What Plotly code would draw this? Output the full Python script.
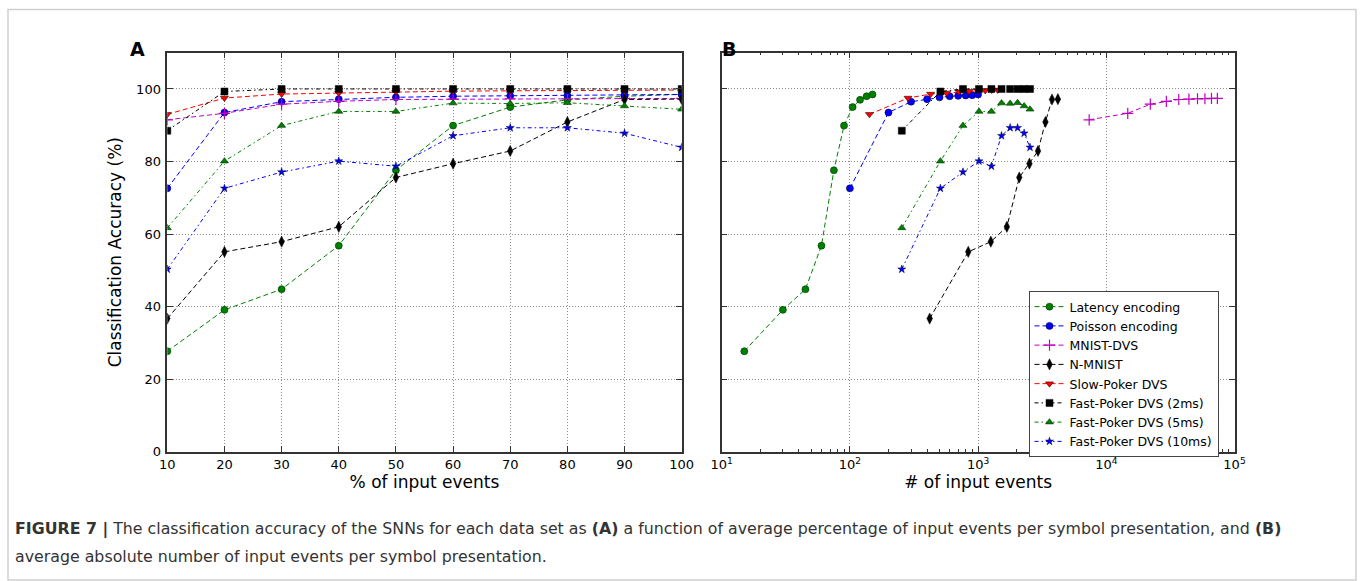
import plotly.graph_objects as go

# ---------------- data ----------------
pct_events = [10, 20, 30, 40, 50, 60, 70, 80, 90, 100]

latency_acc = [27.7, 39.1, 44.8, 56.8, 77.6, 89.9, 95.0, 97.0, 98.0, 98.5]
poisson_acc = [72.6, 93.5, 96.5, 97.2, 97.7, 98.0, 98.1, 98.2, 98.3, 98.5]
mnist_dvs_acc = [91.5, 93.3, 95.8, 96.6, 97.1, 97.2, 97.3, 97.3, 97.4, 97.4]
nmnist_acc = [36.7, 55.1, 57.9, 62.0, 75.6, 79.4, 82.9, 90.9, 97.1, 97.2]
slow_poker_acc = [93.0, 97.5, 98.6, 98.9, 99.2, 99.4, 99.5, 99.6, 99.7, 99.7]
fast2_acc = [88.5, 99.3, 100.0, 100.0, 100.0, 100.0, 100.0, 100.0, 100.0, 100.0]
fast5_acc = [61.7, 80.1, 89.9, 93.8, 93.8, 96.1, 96.0, 96.2, 95.3, 94.4]
fast10_acc = [50.3, 72.6, 77.1, 80.1, 78.7, 87.1, 89.3, 89.3, 87.8, 83.9]

latency_events = [15, 30, 45, 60, 75, 90, 105, 120, 135, 150]
poisson_events = [100, 200, 300, 400, 500, 600, 700, 800, 900, 1000]
mnist_dvs_events = [7350, 14700, 22050, 29400, 36750, 44100, 51450, 58800, 66150, 73500]
nmnist_events = [419, 838, 1257, 1676, 2095, 2514, 2933, 3352, 3771, 4190]
slow_poker_events = [142, 284, 426, 568, 710, 852, 994, 1136, 1278, 1420]
fast_poker_events = [254, 508, 762, 1016, 1270, 1524, 1778, 2032, 2286, 2540]

series_names = ["Latency encoding", "Poisson encoding", "MNIST-DVS", "N-MNIST",
                "Slow-Poker DVS", "Fast-Poker DVS (2ms)", "Fast-Poker DVS (5ms)",
                "Fast-Poker DVS (10ms)"]
series_acc = [latency_acc, poisson_acc, mnist_dvs_acc, nmnist_acc,
              slow_poker_acc, fast2_acc, fast5_acc, fast10_acc]
series_events = [latency_events, poisson_events, mnist_dvs_events, nmnist_events,
                 slow_poker_events, fast_poker_events, fast_poker_events, fast_poker_events]

left_xticks = [10, 20, 30, 40, 50, 60, 70, 80, 90, 100]
y_ticks = [0, 20, 40, 60, 80, 100]
log_tickvals = [10, 100, 1000, 10000, 100000]
log_ticktext = ["10<sup>1</sup>", "10<sup>2</sup>", "10<sup>3</sup>", "10<sup>4</sup>", "10<sup>5</sup>"]

# ---------------- styles ----------------
DASH = "5px,3px"
DASHDOT = "4px,3px,1.5px,3px"
styles = [
    dict(color="#008000", dash=DASH, symbol="circle", size=7, edge="#003300", ew=0.6),
    dict(color="#0000FF", dash=DASH, symbol="circle", size=7, edge="#000033", ew=0.6),
    dict(color="#BF00BF", dash=DASH, symbol="cross-thin", size=8, edge="#BF00BF", ew=1.2),
    dict(color="#000000", dash=DASH, symbol="diamond-tall", size=8, edge="#000000", ew=0.5),
    dict(color="#FF0000", dash=DASH, symbol="triangle-down", size=7, edge="#330000", ew=0.6),
    dict(color="#000000", dash=DASHDOT, symbol="square", size=7, edge="#000000", ew=0.5),
    dict(color="#008000", dash=DASHDOT, symbol="triangle-up", size=7, edge="#003300", ew=0.6),
    dict(color="#0000FF", dash=DASHDOT, symbol="star", size=6, edge="#000033", ew=0.5),
]

W, H = 1360, 581
def px_x(p):
    return p / W
def px_y(p):
    return 1 - p / H

fig = go.Figure()

def add_series(i, xs, xa, ya, show):
    s = styles[i]
    fig.add_trace(go.Scatter(
        x=xs, y=series_acc[i], xaxis=xa, yaxis=ya,
        mode="lines+markers", name=series_names[i], legendgroup=series_names[i],
        showlegend=show,
        line=dict(color=s["color"], width=1, dash=s["dash"]),
        marker=dict(symbol=s["symbol"], size=s["size"], color=s["color"],
                    line=dict(color=s["edge"], width=s["ew"])),
    ))

for i in range(len(series_names)):
    add_series(i, pct_events, "x", "y", False)
for i in range(len(series_names)):
    add_series(i, series_events[i], "x2", "y2", True)

axis_font = dict(family="DejaVu Sans", size=13, color="#000")
title_font = dict(family="DejaVu Sans", size=17, color="#000")
grid_common = dict(showgrid=True, gridcolor="#8c8c8c", gridwidth=1, griddash="1px,2px",
                   showline=True, linecolor="#333", linewidth=1.5, mirror="ticks",
                   ticks="inside", ticklen=6, tickcolor="#333", zeroline=False,
                   tickfont=axis_font, automargin=False)

ytop, ybot = 52.7, 451.7
fig.update_layout(
    template="simple_white",
    width=W, height=H,
    margin=dict(l=0, r=0, t=0, b=0, autoexpand=False),
    paper_bgcolor="white", plot_bgcolor="white",
    xaxis=dict(domain=[px_x(167.3), px_x(681.7)], range=[10, 100],
               tickvals=left_xticks, anchor="y",
               title=dict(text="% of input events", font=title_font, standoff=4),
               **grid_common),
    yaxis=dict(domain=[px_y(ybot), px_y(ytop)], range=[0, 110],
               tickvals=y_ticks, anchor="x", ticklabelstandoff=2,
               title=dict(text="Classification Accuracy (%)", font=title_font, standoff=10),
               **grid_common),
    xaxis2=dict(domain=[px_x(721.7), px_x(1234.5)], type="log", range=[1, 5],
                tickvals=log_tickvals, ticktext=log_ticktext, anchor="y2",
                minor=dict(ticks="inside", ticklen=3, tickcolor="#333", dtick="D1",
                           showgrid=False),
                title=dict(text="# of input events", font=title_font, standoff=4),
                **grid_common),
    yaxis2=dict(domain=[px_y(ybot), px_y(ytop)], range=[0, 110],
                tickvals=y_ticks, anchor="x2", showticklabels=False,
                **grid_common),
    legend=dict(x=px_x(1028.5), y=px_y(291), xanchor="left", yanchor="top",
                bgcolor="white", bordercolor="#444", borderwidth=1,
                font=dict(family="DejaVu Sans", size=12.5, color="#000"),
                tracegroupgap=0, traceorder="normal"),
    showlegend=True,
)

# panel labels
fig.add_annotation(x=px_x(128), y=px_y(35.5), xref="paper", yref="paper",
                   text="<b>A</b>", showarrow=False,
                   font=dict(family="DejaVu Sans", size=19, color="#000"))
fig.add_annotation(x=px_x(729), y=px_y(35.5), xref="paper", yref="paper",
                   text="<b>B</b>", showarrow=False,
                   font=dict(family="DejaVu Sans", size=19, color="#000"))

# caption
cap_font = dict(family="DejaVu Sans", size=15.8, color="#333")
fig.add_annotation(
    x=px_x(13), y=px_y(529), xref="paper", yref="paper", xanchor="left", yanchor="middle",
    text="<b>FIGURE 7 |</b> The classification accuracy of the SNNs for each data set as "
         "<b>(A)</b> a function of average percentage of input events per symbol presentation, and <b>(B)</b>",
    showarrow=False, font=cap_font)
fig.add_annotation(
    x=px_x(13), y=px_y(556), xref="paper", yref="paper", xanchor="left", yanchor="middle",
    text="average absolute number of input events per symbol presentation.",
    showarrow=False, font=cap_font)

# outer frame
fig.add_shape(type="rect", xref="paper", yref="paper",
              x0=px_x(8), x1=px_x(1356), y0=px_y(580), y1=px_y(9.5),
              line=dict(color="#666", width=1.5), fillcolor="rgba(0,0,0,0)", layer="below")

fig.write_html("out.html", config={"displayModeBar": False},
               post_script="document.body.style.margin='0';")
